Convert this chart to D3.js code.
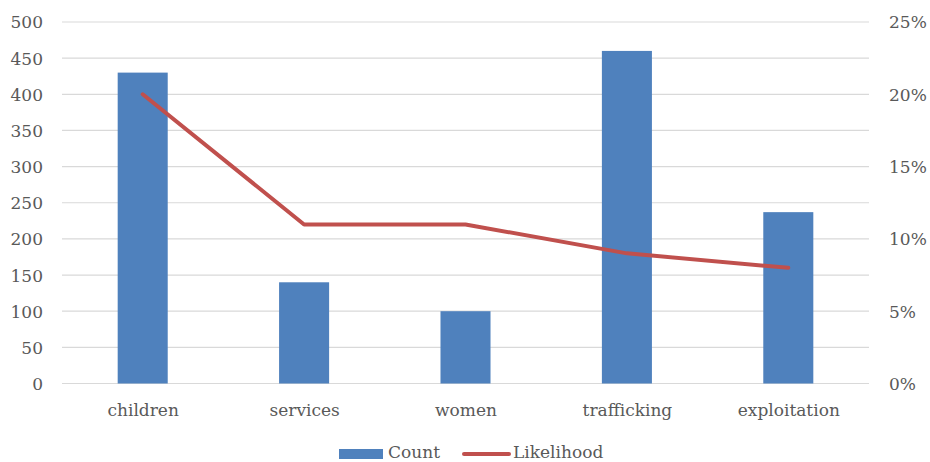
<!DOCTYPE html>
<html>
<head>
<meta charset="utf-8">
<script src="https://cdn.jsdelivr.net/npm/d3@7"></script>
<style>
  html, body { margin: 0; padding: 0; background: #fff; }
  svg { display: block; }
  text { font-family: "DejaVu Serif", "Liberation Serif", serif; fill: #595959; }
</style>
</head>
<body>
<svg id="chart" width="930" height="462"></svg>
<script>
const categories = ["children", "services", "women", "trafficking", "exploitation"];
const counts = [430, 140, 100, 460, 237];
const likelihood = [0.20, 0.11, 0.11, 0.09, 0.08];
const leftTicks = [0, 50, 100, 150, 200, 250, 300, 350, 400, 450, 500];
const rightTicks = [0, 0.05, 0.10, 0.15, 0.20, 0.25];

const svg = d3.select("#chart");
const plot = { left: 62, right: 869, top: 22, bottom: 383.5 };

const x = d3.scaleBand().domain(categories).range([plot.left, plot.right]).paddingInner(0.69).paddingOuter(0.345);
const xCenter = d3.scalePoint().domain(categories).range([plot.left, plot.right]).padding(0.5);
const yL = d3.scaleLinear().domain([0, 500]).range([plot.bottom, plot.top]);
const yR = d3.scaleLinear().domain([0, 0.25]).range([plot.bottom, plot.top]);

// gridlines
svg.append("g").selectAll("line").data(leftTicks).join("line")
  .attr("x1", plot.left).attr("x2", plot.right)
  .attr("y1", d => yL(d)).attr("y2", d => yL(d))
  .attr("stroke", "#d9d9d9").attr("stroke-width", 1.2);

// bars
svg.append("g").selectAll("rect").data(categories).join("rect")
  .attr("x", d => x(d))
  .attr("width", x.bandwidth())
  .attr("y", (d, i) => yL(counts[i]))
  .attr("height", (d, i) => yL(0) - yL(counts[i]))
  .attr("fill", "#4f81bd");

// likelihood line
const line = d3.line()
  .x((d, i) => xCenter(categories[i]))
  .y(d => yR(d));
svg.append("path").datum(likelihood)
  .attr("d", line)
  .attr("fill", "none")
  .attr("stroke", "#c0504d")
  .attr("stroke-width", 4)
  .attr("stroke-linecap", "round")
  .attr("stroke-linejoin", "round");

// left axis
const axL = svg.append("g").attr("transform", `translate(${plot.left - 19},0)`)
  .call(d3.axisLeft(yL).tickValues(leftTicks).tickSize(0).tickPadding(0));
axL.select(".domain").remove();
axL.selectAll("text").style("font-size", "17px").attr("dy", "0.35em").attr("fill", "#595959");

// right axis
const axR = svg.append("g").attr("transform", `translate(${plot.right + 20},0)`)
  .call(d3.axisRight(yR).tickValues(rightTicks).tickFormat(d3.format(".0%")).tickSize(0).tickPadding(0));
axR.select(".domain").remove();
axR.selectAll("text").style("font-size", "17px").attr("dy", "0.35em").attr("fill", "#595959");

// category axis
const axB = svg.append("g").attr("transform", `translate(0,${plot.bottom + 27})`)
  .call(d3.axisBottom(xCenter).tickSize(0).tickPadding(0));
axB.select(".domain").remove();
axB.selectAll("text").style("font-size", "17px").attr("dy", "0.35em").attr("fill", "#595959");

// legend
const legend = svg.append("g");
legend.append("rect").attr("x", 339).attr("y", 449).attr("width", 44).attr("height", 10).attr("fill", "#4f81bd");
legend.append("text").attr("x", 388).attr("y", 452).attr("dy", "0.35em").style("font-size", "17px").text("Count");
legend.append("line").attr("x1", 464).attr("x2", 509).attr("y1", 454).attr("y2", 454)
  .attr("stroke", "#c0504d").attr("stroke-width", 4).attr("stroke-linecap", "round");
legend.append("text").attr("x", 513).attr("y", 452).attr("dy", "0.35em").style("font-size", "17px").text("Likelihood");
</script>
</body>
</html>
